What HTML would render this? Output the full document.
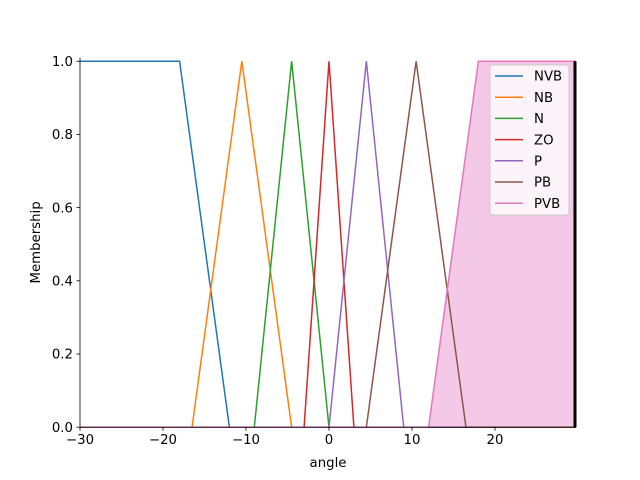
<!DOCTYPE html>
<html><head><meta charset="utf-8"><style>body{margin:0;background:#fff}svg{display:block;font-family:"DejaVu Sans","Liberation Sans",sans-serif}</style></head>
<body>
<svg id="c" width="640" height="480"></svg>
<script>
const names=["NVB","NB","N","ZO","P","PB","PVB"];
const xs=[[-30,-18,-12,29.76],[-30,-16.5,-10.5,-4.5,29.76],[-30,-9,-4.5,0,29.76],[-30,-3,0,3,29.76],[-30,0,4.5,9,29.76],[-30,4.5,10.5,16.5,29.76],[-30,12,18,29.76]];
const ys=[[1,1,0,0],[0,0,1,0,0],[0,0,1,0,0],[0,0,1,0,0],[0,0,1,0,0],[0,0,1,0,0],[0,0,1,1]];
const colors=["#1f77b4","#ff7f0e","#2ca02c","#d62728","#9467bd","#8c564b","#e377c2"];
const xTicks=[-30,-20,-10,0,10,20];
const yTicks=[0,0.2,0.4,0.6,0.8,1.0];
const L=80,R=576,T=57.6,B=427.2,x0=-30,x1=29.76,y0=0,y1=1.01;
const X=v=>L+(v-x0)/(x1-x0)*(R-L), Y=v=>B-(v-y0)/(y1-y0)*(B-T);
const svg=document.getElementById('c');const NS="http://www.w3.org/2000/svg";
function mk(t,a,p){const e=document.createElementNS(NS,t);for(const k in a)e.setAttribute(k,a[k]);(p||svg).appendChild(e);return e;}
let fp=xs[6].map((v,i)=>X(v)+','+Y(ys[6][i])).join(' ');
fp+=' '+X(x1)+','+Y(0)+' '+X(x0)+','+Y(0);
let f=mk('polygon',{points:fp,fill:"#e377c2","fill-opacity":0.4});


names.forEach((n,i)=>{const l=mk('polyline',{points:xs[i].map((v,j)=>X(v)+','+Y(ys[i][j])).join(' '),fill:"none",stroke:colors[i],"stroke-width":1.5});

});
let bl=mk('line',{x1:X(x1)-1,x2:X(x1)-1,y1:Y(0),y2:Y(1),stroke:"#000","stroke-width":3});


let ls=mk('line',{x1:L,x2:L,y1:T,y2:B,stroke:"#000","stroke-width":0.8});


let bs=mk('line',{x1:L,x2:R,y1:B,y2:B,stroke:"#000","stroke-width":0.8});


xTicks.forEach(t=>{mk('line',{x1:X(t),x2:X(t),y1:B,y2:B+3.5,stroke:"#000","stroke-width":0.8});
const s=mk('text',{x:X(t),y:B+17,"text-anchor":"middle","font-size":"13.3"});s.textContent=t<0?'\u2212'+(-t):t;

});
yTicks.forEach(t=>{mk('line',{x1:L,x2:L-3.5,y1:Y(t),y2:Y(t),stroke:"#000","stroke-width":0.8});
const s=mk('text',{x:L-7,y:Y(t)+4.7,"text-anchor":"end","font-size":"13.3"});s.textContent=t.toFixed(1);

});
let xl=mk('text',{x:(L+R)/2,y:467,"text-anchor":"middle","font-size":"13.3"});xl.textContent='angle';


let yl=mk('text',{x:40,y:(T+B)/2,"text-anchor":"middle","font-size":"13.3",transform:`rotate(-90 40 ${(T+B)/2})`});yl.textContent='Membership';


const lg=mk('g',{});


mk('rect',{x:490,y:65,width:79,height:150,rx:3,fill:"#fff","fill-opacity":0.8,stroke:"#ccc"},lg);
names.forEach((n,i)=>{const y=76+i*21.2;
mk('line',{x1:495,x2:523,y1:y,y2:y,stroke:colors[i],"stroke-width":1.5},lg);
const s=mk('text',{x:534,y:y+4.7,"font-size":"13.3"},lg);s.textContent=n;

});
</script>
</body></html>
